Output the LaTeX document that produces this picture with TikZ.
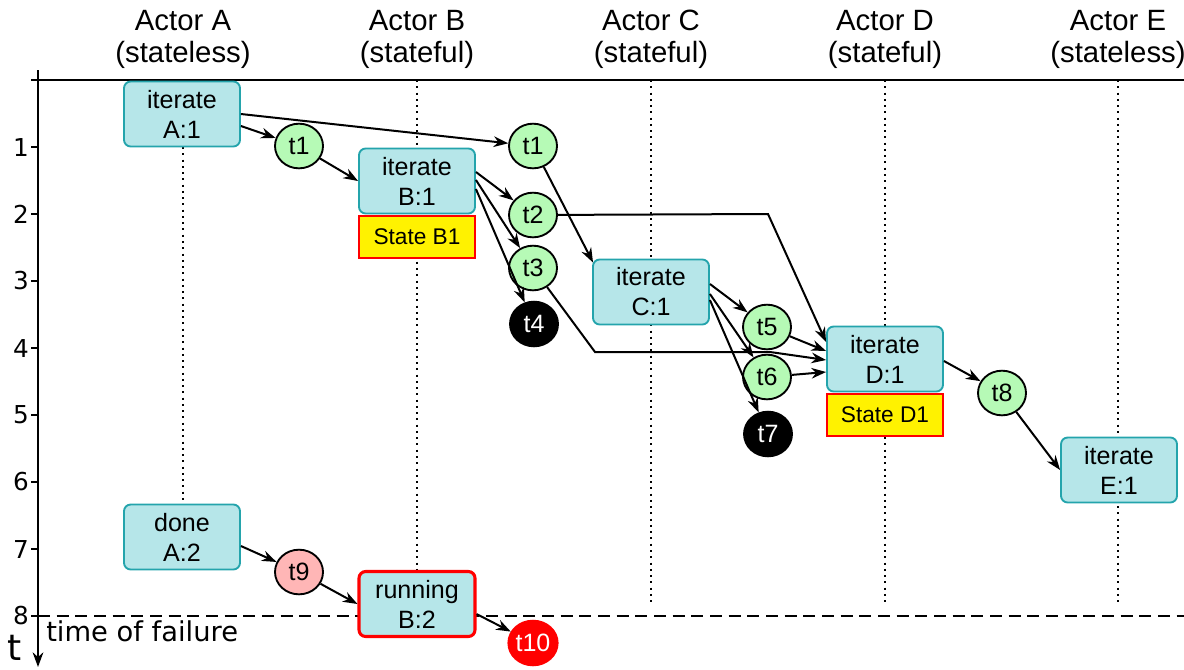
\documentclass[tikz,border=0pt]{standalone}
\usepackage{fontspec}
\setmainfont{Liberation Sans}
\newfontfamily\dvfont{DejaVu Sans}
\usetikzlibrary{arrows.meta,calc,shapes.geometric}
\definecolor{boxfill}{RGB}{182,230,233}
\definecolor{boxedge}{RGB}{36,164,172}
\definecolor{msgfill}{RGB}{182,250,182}
\definecolor{pinkfill}{RGB}{255,182,182}
\tikzset{
  actbox/.style={rectangle, rounded corners=5pt, draw=boxedge, fill=boxfill, line width=1.4pt,
    minimum width=87pt, minimum height=48.75pt, inner sep=0pt, align=center,
    font=\fontsize{18.8}{22.5}\selectfont},
  failbox/.style={actbox, draw=red, line width=2.3pt},
  statebox/.style={rectangle, draw=red, fill=yellow, line width=1.4pt,
    minimum width=87pt, minimum height=32pt, inner sep=0pt, font=\fontsize{17}{20}\selectfont},
  msg/.style={ellipse, draw=black, fill=msgfill, line width=1.4pt, minimum width=36pt,
    minimum height=33.5pt, inner sep=0pt, font=\fontsize{18.8}{20}\selectfont},
  lostmsg/.style={msg, fill=black, text=white},
  failmsg/.style={msg, draw=red, fill=red, text=white},
  pinkmsg/.style={msg, fill=pinkfill},
  conn/.style={-{Stealth[length=11pt,width=8pt]}, line width=1.5pt},
  lifeline/.style={line width=1.5pt, dash pattern=on 1.5pt off 3.2pt},
  header/.style={anchor=north, align=center, inner sep=0pt, font=\fontsize{22}{24}\selectfont},
  ticklabel/.style={anchor=center, font=\dvfont\fontsize{18.5}{20}\selectfont}
}
\begin{document}
\begin{tikzpicture}[x=0.75pt,y=-0.75pt]
\useasboundingbox (0,0) rectangle (1184,669);

% headers
\node[header] (hA) at (183,10) {Actor A\\(stateless)};
\node[header] (hB) at (417,10) {Actor B\\(stateful)};
\node[header] (hC) at (651,10) {Actor C\\(stateful)};
\node[header] (hD) at (885,10) {Actor D\\(stateful)};
\node[header] (hE) at (1118,10) {Actor E\\(stateless)};

% lifelines
\draw[lifeline] (183,147) -- (183,505);
\draw[lifeline] (417,80) -- (417,572);
\draw[lifeline] (651,80) -- (651,605);
\draw[lifeline] (885,80) -- (885,602);
\draw[lifeline] (1118,80) -- (1118,605);

% axes
\coordinate (axtop) at (38,70);
\coordinate (axbot) at (38,667);
\draw[line width=1.6pt, -{Stealth[length=11pt,width=8pt]}] (axtop) -- (axbot);
\draw[line width=1.6pt] (31,80) -- (1184,80);
\foreach \i in {1,...,8} {
  \draw[line width=1.5pt] (31,{80+67*\i}) -- (38,{80+67*\i});
  \node[ticklabel] (tick\i) at (21,{80+67*\i}) {\i};
}
\draw[line width=2.2pt, dash pattern=on 9pt off 5pt] (38,616) -- (1184,616);
\node[anchor=base west, inner sep=0pt, font=\dvfont\fontsize{20.5}{22}\selectfont] (tof) at (46,641) {time of failure};
\node[anchor=base west, inner sep=0pt, font=\dvfont\fontsize{27}{28}\selectfont] (tlab) at (7,660) {t};

% nodes
\node[actbox] (a1) at (182,114) {iterate\\A:1};
\node[msg] (t1a) at (299,146) {t1};
\node[actbox] (b1) at (417,181) {iterate\\B:1};
\node[statebox] (sb1) at (417,237) {State B1};
\node[msg] (t1b) at (533,146) {t1};
\node[msg] (t2) at (533,215) {t2};
\node[msg] (t3) at (533,268) {t3};
\node[lostmsg] (t4) at (534,324) {t4};
\node[actbox] (c1) at (651,292) {iterate\\C:1};
\node[msg] (t5) at (767,327) {t5};
\node[msg] (t6) at (767,377) {t6};
\node[lostmsg] (t7) at (768,434) {t7};
\node[actbox] (d1) at (885,359) {iterate\\D:1};
\node[statebox] (sd1) at (885,415) {State D1};
\node[msg] (t8) at (1002,393) {t8};
\node[actbox] (e1) at (1119,470) {iterate\\E:1};
\node[actbox] (a2) at (182,537) {done\\A:2};
\node[pinkmsg] (t9) at (299,572) {t9};
\node[failbox] (b2) at (417,604) {running\\B:2};
\node[failmsg] (t10) at (533,643) {t10};

\coordinate (k1) at (768,214);
\coordinate (k2) at (595,352);
\coordinate (k3) at (770,352);

% connectors
\draw[conn] ($(a1.east)+(0,12)$) -- (t1a);
\draw[conn] (a1.east) -- (t1b);
\draw[conn] (t1a) -- (b1.west);
\draw[conn] ($(b1.east)+(0,-9)$) -- (t2);
\draw[conn] ($(b1.east)+(0,-1)$) -- (t3);
\draw[conn] ($(b1.east)+(0,8)$) -- (t4);
\draw[conn] (t1b) -- ($(c1.north west)+(1,4)$);
\draw[conn] (t2) -- (k1) -- ($(d1.west)+(0,-17)$);
\draw[conn] (t3) -- (k2) -- (k3) -- ($(d1.west)+(0,1)$);
\draw[conn] ($(c1.east)+(0,-8)$) -- (t5);
\draw[conn] ($(c1.east)+(0,2)$) -- (t6);
\draw[conn] ($(c1.east)+(0,8)$) -- (t7);
\draw[conn] (t5) -- ($(d1.west)+(0,-8)$);
\draw[conn] (t6) -- ($(d1.west)+(0,13)$);
\draw[conn] ($(d1.east)+(0,2)$) -- (t8);
\draw[conn] (t8) -- (e1.west);
\draw[conn] ($(a2.east)+(0,9)$) -- (t9);
\draw[conn] (t9) -- (b2.west);
\draw[conn] ($(b2.east)+(0,10)$) -- (t10);
\end{tikzpicture}
\end{document}
